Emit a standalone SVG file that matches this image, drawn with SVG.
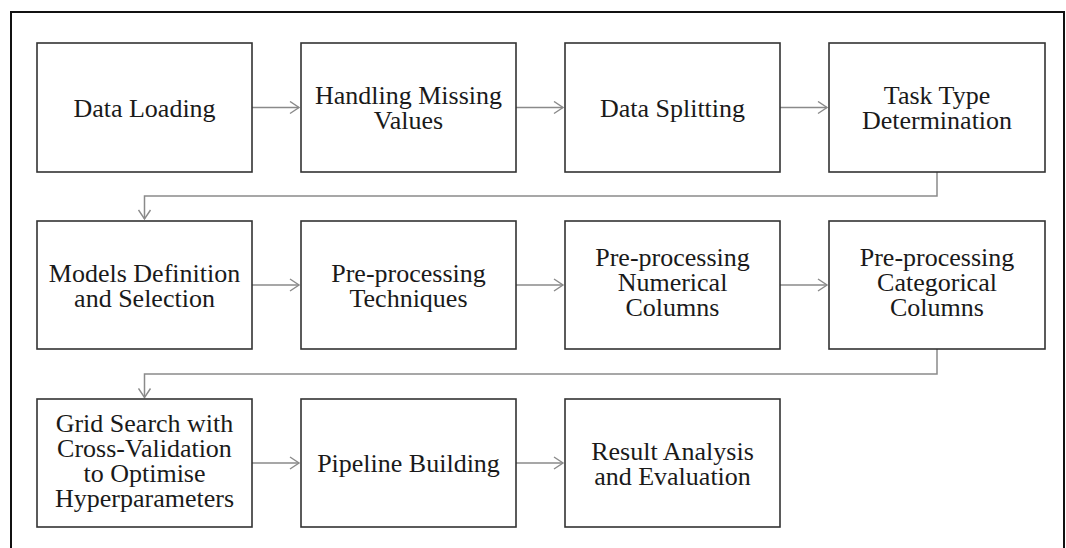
<svg xmlns="http://www.w3.org/2000/svg" width="1066" height="548" viewBox="0 0 1066 548">
<defs>
<marker id="arr" markerWidth="12" markerHeight="14" refX="10" refY="7" orient="auto" markerUnits="userSpaceOnUse">
<path d="M1,1 L10,7 L1,13" fill="none" stroke="#8a8a8a" stroke-width="1.4"/>
</marker>
<style>
.box{fill:#fff;stroke:#333;stroke-width:1.6}
.t{font-family:"Liberation Serif","Times New Roman",serif;font-size:26px;fill:#1a1a1a;text-anchor:middle}
.c{fill:none;stroke:#8a8a8a;stroke-width:1.5}
</style>
</defs>
<rect width="1066" height="548" fill="#fff"/>
<rect x="11" y="12" width="1053" height="560" fill="none" stroke="#111" stroke-width="2"/>
<g id="connectors">
<line class="c" x1="252" y1="107.5" x2="299" y2="107.5" marker-end="url(#arr)"/>
<line class="c" x1="516" y1="107.5" x2="563" y2="107.5" marker-end="url(#arr)"/>
<line class="c" x1="780" y1="107.5" x2="827" y2="107.5" marker-end="url(#arr)"/>
<polyline class="c" points="937,172 937,196 144.5,196 144.5,219" marker-end="url(#arr)"/>
<line class="c" x1="252" y1="285" x2="299" y2="285" marker-end="url(#arr)"/>
<line class="c" x1="516" y1="285" x2="563" y2="285" marker-end="url(#arr)"/>
<line class="c" x1="780" y1="285" x2="827" y2="285" marker-end="url(#arr)"/>
<polyline class="c" points="937,349 937,374 144.5,374 144.5,397.5" marker-end="url(#arr)"/>
<line class="c" x1="252" y1="463" x2="299" y2="463" marker-end="url(#arr)"/>
<line class="c" x1="516" y1="463" x2="563" y2="463" marker-end="url(#arr)"/>
</g>
<g id="n1"><rect class="box" x="37" y="43" width="215" height="129"/><text class="t" x="144.5" y="116.5">Data Loading</text></g>
<g id="n2"><rect class="box" x="301" y="43" width="215" height="129"/><text class="t" x="408.5" y="104">Handling Missing</text><text class="t" x="408.5" y="129">Values</text></g>
<g id="n3"><rect class="box" x="565" y="43" width="215" height="129"/><text class="t" x="672.5" y="116.5">Data Splitting</text></g>
<g id="n4"><rect class="box" x="829" y="43" width="216" height="129"/><text class="t" x="937" y="104">Task Type</text><text class="t" x="937" y="129">Determination</text></g>
<g id="n5"><rect class="box" x="37" y="221" width="215" height="128"/><text class="t" x="144.5" y="281.5">Models Definition</text><text class="t" x="144.5" y="306.5">and Selection</text></g>
<g id="n6"><rect class="box" x="301" y="221" width="215" height="128"/><text class="t" x="408.5" y="281.5">Pre-processing</text><text class="t" x="408.5" y="306.5">Techniques</text></g>
<g id="n7"><rect class="box" x="565" y="221" width="215" height="128"/><text class="t" x="672.5" y="266">Pre-processing</text><text class="t" x="672.5" y="291">Numerical</text><text class="t" x="672.5" y="316">Columns</text></g>
<g id="n8"><rect class="box" x="829" y="221" width="216" height="128"/><text class="t" x="937" y="266">Pre-processing</text><text class="t" x="937" y="291">Categorical</text><text class="t" x="937" y="316">Columns</text></g>
<g id="n9"><rect class="box" x="37" y="399" width="215" height="128"/><text class="t" x="144.5" y="432">Grid Search with</text><text class="t" x="144.5" y="457">Cross-Validation</text><text class="t" x="144.5" y="482">to Optimise</text><text class="t" x="144.5" y="507">Hyperparameters</text></g>
<g id="n10"><rect class="box" x="301" y="399" width="215" height="128"/><text class="t" x="408.5" y="472">Pipeline Building</text></g>
<g id="n11"><rect class="box" x="565" y="399" width="215" height="128"/><text class="t" x="672.5" y="459.5">Result Analysis</text><text class="t" x="672.5" y="484.5">and Evaluation</text></g>
</svg>
